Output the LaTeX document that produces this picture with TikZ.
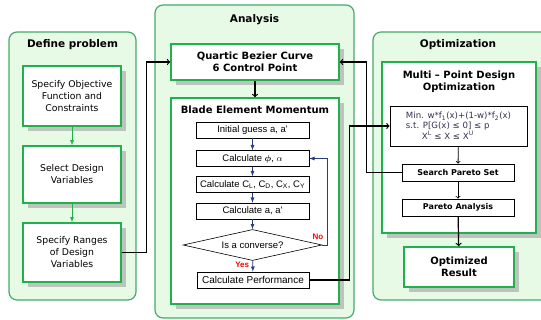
\documentclass[tikz,border=0pt]{standalone}
\usepackage{fontspec}
\setmainfont{DejaVu Sans}
\newfontfamily\arialfont{Liberation Sans}
\usepackage{bm}
\usepackage{tikz}
\usetikzlibrary{shapes, arrows, shadows}

\definecolor{panelfill}{RGB}{230,250,230}
\definecolor{panelline}{RGB}{70,170,105}
\definecolor{boxgreen}{RGB}{30,177,76}
\definecolor{shadowgray}{RGB}{190,195,190}
\definecolor{bemnavy}{RGB}{40,60,130}
\definecolor{mintext}{RGB}{50,50,80}

\tikzset{
	panel/.style={rectangle, rounded corners=8pt, draw=panelline, fill=panelfill, line width=1.2pt},
	gbox/.style={rectangle, draw=boxgreen, line width=1.5pt, fill=white, align=center,
		drop shadow={shadow xshift=5pt, shadow yshift=-5pt, fill=shadowgray, opacity=1}},
	sbox/.style={rectangle, draw, fill=white, line width=0.6pt, minimum width=113pt, minimum height=16pt,
		inner sep=1pt, font=\arialfont\fontsize{9.5}{11}\selectfont},
	wbox/.style={rectangle, draw, fill=white, line width=0.8pt, minimum width=112pt, minimum height=17pt,
		inner sep=1pt, font=\bfseries\fontsize{8}{9.5}\selectfont},
	ptitle/.style={font=\bfseries\fontsize{10.5}{12}\selectfont},
	btitle/.style={font=\bfseries\fontsize{10}{12}\selectfont},
	body/.style={font=\fontsize{9.3}{12}\selectfont},
	blk/.style={->, line width=1.2pt},
	garrow/.style={-latex, boxgreen, line width=0.8pt},
	narrow/.style={-latex, bemnavy, line width=0.8pt},
	redlab/.style={red, font=\arialfont\bfseries\fontsize{8}{9}\selectfont}
}

\begin{document}
\begin{tikzpicture}[x=1pt, y=-1pt]
	\clip (0,0) rectangle (541,320);
	% panels
	\node at (72.5,166) [panel, minimum width=127pt, minimum height=268pt] (defpanel) {};
	\node at (254.5,161.5) [panel, minimum width=199pt, minimum height=313pt] (anapanel) {};
	\node at (466,166) [panel, minimum width=186pt, minimum height=268pt] (optpanel) {};
	\node at (72.5,45) [ptitle] (deftitle) {Define problem};
	\node at (254.5,20) [ptitle] (anatitle) {Analysis};
	\node at (458,45) [ptitle] (opttitle) {Optimization};
	% define problem
	\node at (72,96) [gbox, body, minimum width=98pt, minimum height=60pt] (spec1) {Specify Objective\\Function and\\Constraints};
	\node at (72,174.5) [gbox, body, minimum width=98pt, minimum height=57pt] (spec2) {Select Design\\Variables};
	\node at (72,252.5) [gbox, body, minimum width=98pt, minimum height=59pt] (spec3) {Specify Ranges\\of Design\\Variables};
	\draw[garrow] (spec1) -- (spec2);
	\draw[garrow] (spec2) -- (spec3);
	% analysis
	\node at (255,62) [gbox, btitle, minimum width=168pt, minimum height=36pt] (quartic) {Quartic Bezier Curve\\6 Control Point};
	\node at (255,201) [gbox, minimum width=168pt, minimum height=206pt] (bem) {};
	\node at (255,110) [btitle] (bemtitle) {Blade Element Momentum};
	\node at (252.5,130) [sbox] (guess) {Initial guess a, a'};
	\node at (252.5,158.5) [sbox] (calcphi) {Calculate $\bm{\phi}$, $\alpha$};
	\node at (252.5,184.5) [sbox] (calccl) {Calculate C\textsubscript{L}, C\textsubscript{D}, C\textsubscript{X}, C\textsubscript{Y}};
	\node at (252.5,211) [sbox] (calca) {Calculate a, a'};
	\node at (252.5,245) [diamond, draw, fill=white, line width=0.6pt, aspect=4.5, inner sep=0pt,
		minimum width=139pt, minimum height=31pt, font=\arialfont\fontsize{9.5}{11}\selectfont] (conv) {Is a converse?};
	\node at (253,280) [sbox, minimum width=112pt, font=\arialfont\fontsize{10}{12}\selectfont] (perf) {Calculate Performance};
	\draw[narrow] (guess) -- (calcphi);
	\draw[narrow] (calcphi) -- (calccl);
	\draw[narrow] (calccl) -- (calca);
	\draw[narrow] (calca) -- (conv);
	\draw[narrow] (conv) -- (perf) node[redlab, left, pos=0.4] {Yes};
	\draw[narrow] (conv.east) -- ++(5,0) |- (calcphi.east);
	\node at (318,237) [redlab] (nolab) {No};
	\draw[blk] (quartic) -- (bem);
	% optimization
	\node at (459,147.5) [gbox, minimum width=154pt, minimum height=171pt] (multi) {};
	\node at (459,82) [btitle, align=center] (multititle) {Multi -- Point Design\\Optimization};
	\node at (458.5,126) [rectangle, draw, fill=white, line width=0.8pt, minimum width=137pt, minimum height=40pt,
		align=left, text=mintext, font=\fontsize{8.6}{10}\selectfont] (minbox)
		{Min. w*f\textsubscript{1}(x)+(1-w)*f\textsubscript{2}(x)\\s.t. P[G(x) ≤ 0] ≤ p\\\hspace{16pt}X\textsuperscript{L} ≤ X ≤ X\textsuperscript{U}};
	\node at (458,172.5) [wbox] (search) {Search Pareto Set};
	\node at (458,207.5) [wbox] (pareto) {Pareto Analysis};
	\node at (459,267) [gbox, btitle, minimum width=110pt, minimum height=40pt] (optres) {Optimized\\Result};
	\draw[->, line width=0.8pt] (minbox) -- (search);
	\draw[->, line width=0.8pt] (search) -- (pareto);
	\draw[blk] (pareto) -- (optres);
	% links between panels
	\draw[blk] (spec3.east) -- ++(25,0) |- (quartic.west);
	\draw[blk] (perf.east) -- ++(40,0) |- (minbox.west);
	\draw[blk] (search.west) -- ++(-35,0) |- (quartic.east);
\end{tikzpicture}
\end{document}
